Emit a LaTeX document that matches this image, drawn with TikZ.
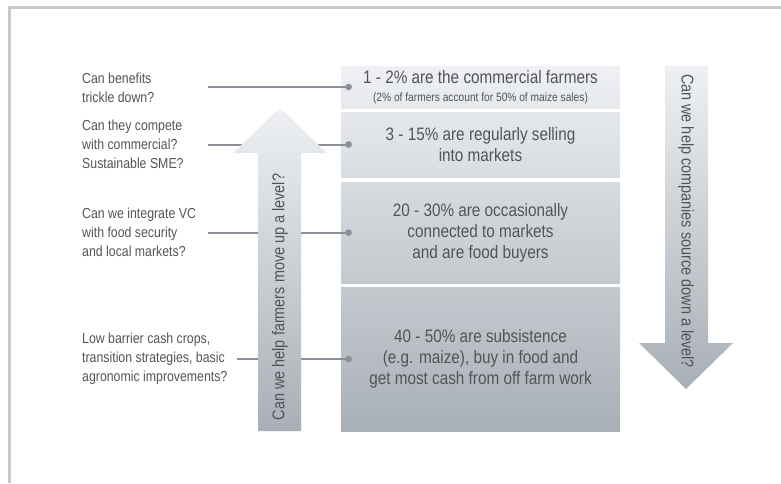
\documentclass[tikz,border=0pt]{standalone}
\usepackage{fontspec}
\setmainfont[FakeStretch=0.85]{Liberation Sans}
\usetikzlibrary{arrows.meta}

\definecolor{inkgray}{HTML}{515458}
\definecolor{linkgray}{HTML}{8A9097}
\definecolor{shadelight}{HTML}{EEF0F3}
\definecolor{shadedark}{HTML}{A8AFB6}
\definecolor{framegray}{HTML}{C8C8C8}

\tikzset{
    question/.style={anchor=west, align=left, inner sep=0pt, text=inkgray,
        font=\fontsize{14.5}{19}\selectfont},
    level/.style={minimum width=279pt, inner sep=0pt, align=center, text=inkgray,
        font=\fontsize{18}{21}\selectfont},
    link/.style={line width=2pt, linkgray, -{Circle[length=6.5pt]}},
    arrowtext/.style={inner sep=0pt, text=inkgray, font=\fontsize{17}{20}\selectfont},
}

\begin{document}
\begin{tikzpicture}[x=1pt, y=-1pt]
        \useasboundingbox (0,0) rectangle (781,483);
        % frame
        \draw[line width=3pt, framegray] (9.5,483) -- (9.5,7.3) -- (781,7.3);

        % the four levels, shaded as one pile
        \node[level, minimum height=42pt, top color=shadelight, bottom color=shadedark!11!shadelight] (commercial) at (480.5,87)
            {1 - 2\% are the commercial farmers\\[-3pt]{\fontsize{12}{14}\selectfont (2\% of farmers account for 50\% of maize sales)}};
        \node[level, minimum height=65pt, top color=shadedark!13!shadelight, bottom color=shadedark!30!shadelight] (regular) at (480.5,144.5)
            {3 - 15\% are regularly selling\\into markets};
        \node[level, minimum height=101pt, top color=shadedark!32!shadelight, bottom color=shadedark!60!shadelight] (occasional) at (480.5,232.5)
            {20 - 30\% are occasionally\\connected to markets\\and are food buyers};
        \node[level, minimum height=144pt, top color=shadedark!60!shadelight, bottom color=shadedark] (subsistence) at (480.5,359)
            {40 - 50\% are subsistence\\(e.g. maize), buy in food and\\get most cash from off farm work};

        % questions on the left
        \node[question] (q1) at (82,87.5) {Can benefits\\trickle down?};
        \node[question] (q2) at (82,144.5) {Can they compete\\with commercial?\\Sustainable SME?};
        \node[question] (q3) at (82,232) {Can we integrate VC\\with food security\\and local markets?};
        \node[question] (q4) at (82,359) {Low barrier cash crops,\\transition strategies, basic\\agronomic improvements?};

        \coordinate (from1) at (208,87);
        \coordinate (from2) at (208,144.5);
        \coordinate (from3) at (208,232.5);
        \coordinate (from4) at (237,359);

        \foreach \i/\lvl in {1/commercial, 2/regular, 3/occasional, 4/subsistence} {
            \draw[link] (from\i) -- ([xshift=11pt]\lvl.west);
        }

        % up and down arrows
        \shade[top color=shadelight, bottom color=shadedark]
            (258,431) -- (258,153) -- (233,153) -- (280,108) -- (327,153) -- (301,153) -- (301,431) -- cycle;
        \node[arrowtext, rotate=90] (up) at (280,297) {Can we help farmers move up a level?};

        \shade[top color=shadelight, bottom color=shadedark]
            (665,66) -- (708,66) -- (708,343) -- (733,343) -- (686,389) -- (639,343) -- (665,343) -- cycle;
        \node[arrowtext, rotate=-90] (down) at (686,221) {Can we help companies source down a level?};
\end{tikzpicture}
\end{document}
